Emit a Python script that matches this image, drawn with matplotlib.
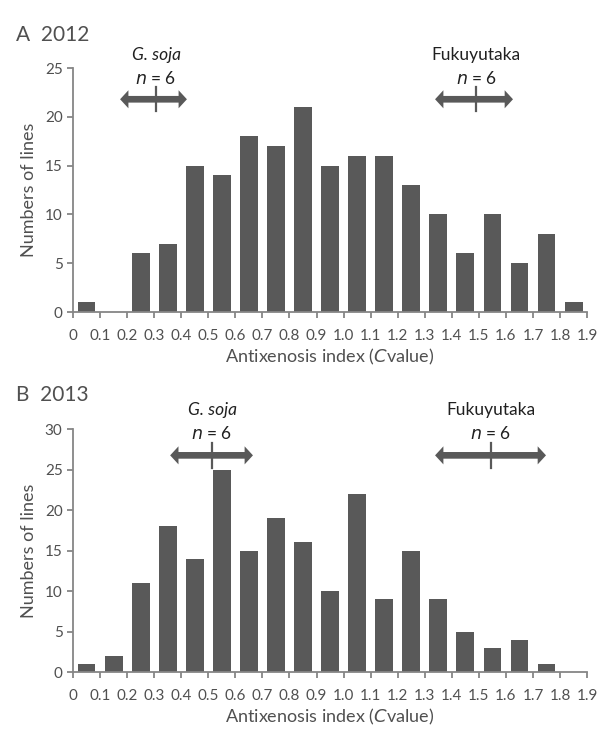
import numpy as np
import matplotlib
matplotlib.use("Agg")
import matplotlib.pyplot as plt

plt.rcParams['font.family'] = ['Lato', 'DejaVu Sans']

bin_edges = [round(0.1 * i, 1) for i in range(20)]
tick_labels = ['0'] + [f"{v:.1f}" for v in bin_edges[1:]]

counts_2012 = [1, 0, 6, 7, 15, 14, 18, 17, 21, 15, 16, 16, 13, 10, 6, 10, 5, 8, 1]
counts_2013 = [1, 2, 11, 18, 14, 25, 15, 19, 16, 10, 22, 9, 15, 9, 5, 3, 4, 1, 0]

# parent ranges (left, mean, right)
soja_2012 = (0.174, 0.307, 0.421)
fuku_2012 = (1.338, 1.49, 1.626)
soja_2013 = (0.359, 0.514, 0.665)
fuku_2013 = (1.338, 1.545, 1.748)

bar_color = '#595959'
axis_color = '#868686'
text_color = '#505050'
label_color = '#202020'

fig = plt.figure(figsize=(6.15, 7.42), dpi=100)
ax1 = fig.add_axes([0.1187, 0.5795, 0.836, 0.3288])
ax2 = fig.add_axes([0.1187, 0.0943, 0.836, 0.3275])


def range_arrow(ax, lo, mid, hi, y, tick_h):
    # double-headed arrow drawn as two filled halves from the mean
    for end in (lo, hi):
        ax.annotate('', xy=(end, y), xytext=(mid, y),
                    arrowprops=dict(arrowstyle='simple,head_length=0.6,head_width=1.3,tail_width=0.48',
                                    fc=bar_color, ec='none', lw=0, mutation_scale=10,
                                    shrinkA=0, shrinkB=0),
                    annotation_clip=False)
    ax.plot([mid, mid], [y - tick_h, y + tick_h], color=bar_color,
            lw=1.6, clip_on=False, zorder=5)


def draw_panel(ax, counts, ymax):
    centers = np.array(bin_edges[:-1]) + 0.05
    ax.bar(centers, counts, width=0.066, color=bar_color, zorder=2)
    ax.set_xlim(0, 1.9)
    ax.set_ylim(0, ymax)
    ax.set_xticks(bin_edges)
    ax.set_xticklabels(tick_labels)
    ax.set_yticks(np.arange(0, ymax + 1, 5))
    for s in ['top', 'right']:
        ax.spines[s].set_visible(False)
    for s in ['left', 'bottom']:
        ax.spines[s].set_color(axis_color)
        ax.spines[s].set_linewidth(1.3)
    ax.tick_params(axis='both', colors=axis_color, length=4, width=1.3,
                   labelcolor=text_color, labelsize=11)
    ax.tick_params(axis='x', pad=8)
    ax.set_ylabel('Numbers of lines', fontsize=13, color=text_color, labelpad=6)
    ax.set_xlabel('Antixenosis index ($\\it{C}$value)', fontsize=13,
                  color=text_color, labelpad=3)


def parent_labels(ax, soja, fuku, y_name, y_n):
    tr = ax.get_xaxis_transform()
    ax.text(soja[1], y_name, 'G. soja', transform=tr, ha='center', va='center',
            style='italic', fontsize=12.5, color=label_color)
    ax.text(fuku[1], y_name, 'Fukuyutaka', transform=tr, ha='center', va='center',
            fontsize=12.5, color=label_color)
    for p in (soja, fuku):
        ax.text(p[1], y_n, '$\\it{n}$ = 6', transform=tr, ha='center', va='center',
                fontsize=12.5, color=label_color)


draw_panel(ax1, counts_2012, 25)
draw_panel(ax2, counts_2013, 30)

range_arrow(ax1, *soja_2012, 21.8, 1.25)
range_arrow(ax1, *fuku_2012, 21.8, 1.25)
range_arrow(ax2, *soja_2013, 26.75, 1.55)
range_arrow(ax2, *fuku_2013, 26.75, 1.55)

parent_labels(ax1, soja_2012, fuku_2012, 1.054, 0.959)
parent_labels(ax2, soja_2013, fuku_2013, 1.079, 0.983)

fig.text(0.026, 0.953, 'A  2012', fontsize=15, color=text_color, va='center')
fig.text(0.026, 0.4677, 'B  2013', fontsize=15, color=text_color, va='center')

fig.savefig('out.png', dpi=100)
